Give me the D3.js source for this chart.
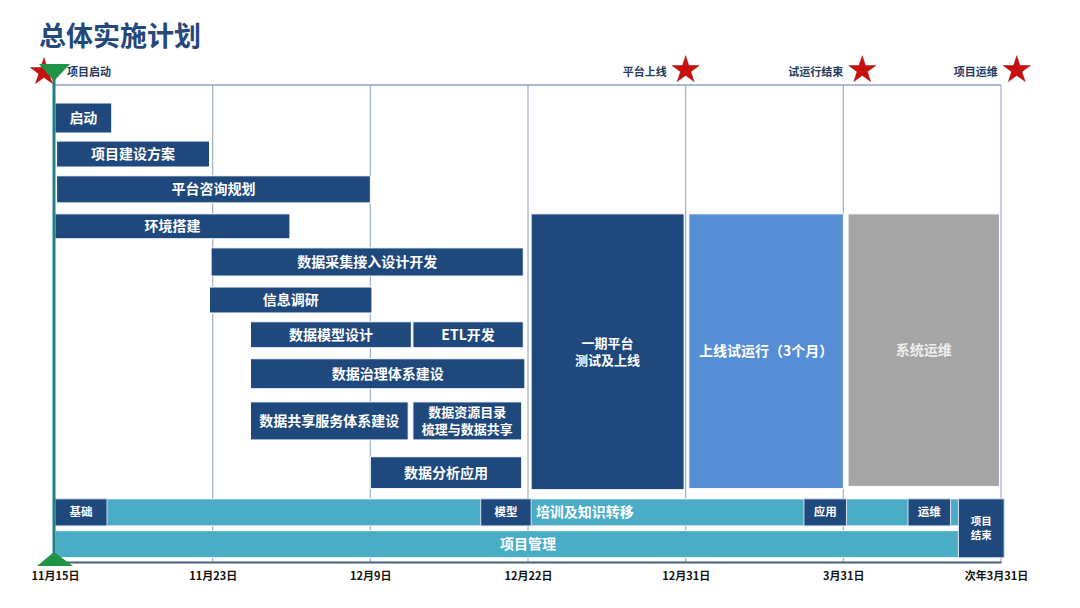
<html>
<head>
<meta charset="UTF-8">
<title>总体实施计划</title>
<script src="https://d3js.org/d3.v7.min.js"></script>
<style>
body {
  margin: 0;
  background: #fff;
  font-family: "Noto Sans CJK SC", "Noto Sans", sans-serif;
}
text {
  font-family: "Noto Sans CJK SC", "Noto Sans", sans-serif;
}
</style>
</head>
<body>
<svg id="chart" width="1080" height="608"></svg>
<script>

// axis labels (one column per milestone date)
var tickLabels = ["11月15日", "11月23日", "12月9日", "12月22日", "12月31日", "3月31日", "次年3月31日"];

// work packages: start / end in column units, lane = row, span = row height in lanes
var taskNames = ["启动", "项目建设方案", "平台咨询规划", "环境搭建", "数据采集接入设计开发", "信息调研",
                 "数据模型设计", "ETL开发", "数据治理体系建设", "数据共享服务体系建设",
                 "数据资源目录\n梳理与数据共享", "数据分析应用"];
var taskStart = [0.0, 0.01, 0.01, 0.0, 0.99, 0.98, 1.24, 2.27, 1.24, 1.24, 2.27, 2.0];
var taskEnd   = [0.36, 0.98, 2.0, 1.49, 2.97, 2.01, 2.26, 2.97, 2.98, 2.24, 2.96, 2.96];
var taskLane  = [0, 1.04, 1.99, 3.03, 3.96, 5.03, 5.98, 5.98, 6.99, 8.17, 8.17, 9.67];
var taskSpan  = [0.82, 0.71, 0.74, 0.68, 0.77, 0.71, 0.71, 0.71, 0.82, 1.04, 1.04, 0.87];

// the three big phases after development
var phaseNames = ["一期平台\n测试及上线", "上线试运行（3个月）", "系统运维"];
var phaseStart = [3.02, 4.02, 5.03];
var phaseEnd   = [3.99, 5.0, 5.99];
var phaseLane  = [3.03, 3.03, 3.03];
var phaseSpan  = [7.54, 7.51, 7.45];
var phaseKind  = ["dark", "mid", "grey"];

// continuous streams along the bottom
var streamNames = ["培训及知识转移", "项目管理"];
var streamStart = [0, 0];
var streamEnd   = [6, 5.73];
var streamLane  = [10.82, 11.69];
var streamSpan  = [0.74, 0.74];

// stage markers sitting on the training stream
var stageNames = ["基础", "模型", "应用", "运维", "项目\n结束"];
var stageStart = [0, 2.7, 4.75, 5.41, 5.73];
var stageEnd   = [0.33, 3.02, 5.02, 5.68, 6.02];
var stageLane  = [10.82, 10.82, 10.82, 10.82, 10.82];
var stageSpan  = [0.74, 0.74, 0.74, 0.74, 1.61];

// milestones (stars)
var milestoneNames = ["项目启动", "平台上线", "试运行结束", "项目运维"];
var milestonePos   = [-0.07, 4.0, 5.12, 6.1];

var navy = "#1f497d";
var colors = {dark: navy, mid: "#558ed5", grey: "#a5a5a5"};
var teal = "#4bacc6";

var svg = d3.select("#chart");

var x = d3.scaleLinear().domain([0, 6]).range([55, 1001]);
var y = d3.scaleLinear().domain([0, 12]).range([103, 542]);
var frameTop = 85, frameBottom = 562;

function zip(names, start, end, lane, span) {
  return names.map(function(n, i) {
    return {name: n, start: start[i], end: end[i], lane: lane[i], span: span[i], i: i};
  });
}

var tasks   = zip(taskNames, taskStart, taskEnd, taskLane, taskSpan);
var phases  = zip(phaseNames, phaseStart, phaseEnd, phaseLane, phaseSpan);
phases.forEach(function(d, i) { d.kind = phaseKind[i]; });
var streams = zip(streamNames, streamStart, streamEnd, streamLane, streamSpan);
var stages  = zip(stageNames, stageStart, stageEnd, stageLane, stageSpan);

// title
svg.append("text")
  .attr("x", 39).attr("y", 46)
  .attr("font-size", 27).attr("font-weight", 700)
  .attr("fill", "#24487a")
  .text("总体实施计划");

// grid
var grid = svg.append("g");
grid.selectAll("line.v").data(d3.range(1, 7)).enter().append("line")
  .attr("x1", function(d) { return x(d); }).attr("x2", function(d) { return x(d); })
  .attr("y1", frameTop).attr("y2", frameBottom)
  .attr("stroke", "#9fb0c6").attr("stroke-width", 1.2);
grid.append("line")
  .attr("x1", x(0)).attr("x2", x(6))
  .attr("y1", frameTop).attr("y2", frameTop)
  .attr("stroke", "#8fa3bf").attr("stroke-width", 1.5);

// multi-line centred label, one text per line
function label(sel, fill, size) {
  sel.each(function(d) {
    var lines = d.name.split("\n");
    var cx = (x(d.start) + x(d.end)) / 2;
    var cy = y(d.lane + d.span / 2);
    var fs = lines.length > 1 ? size - 1 : size;
    var lh = fs * 1.32;
    var g = d3.select(this);
    lines.forEach(function(l, k) {
      g.append("text")
        .attr("class", "lbl")
        .attr("text-anchor", "middle")
        .attr("font-size", fs).attr("font-weight", 700)
        .attr("fill", fill)
        .attr("x", cx)
        .attr("y", cy + (k - (lines.length - 1) / 2) * lh)
        .attr("dy", "0.35em")
        .text(l);
    });
  });
}

function bars(data, cls) {
  var g = svg.append("g").selectAll("g." + cls).data(data).enter().append("g").attr("class", cls);
  g.append("rect")
    .attr("x", function(d) { return x(d.start); })
    .attr("width", function(d) { return x(d.end) - x(d.start); })
    .attr("y", function(d) { return y(d.lane); })
    .attr("height", function(d) { return y(d.lane + d.span) - y(d.lane); });
  return g;
}

// tasks
var tg = bars(tasks, "task");
tg.select("rect").attr("fill", navy).attr("stroke", "#ffffff").attr("stroke-width", 1);
label(tg, "#ffffff", 14);

// phases
var pg = bars(phases, "phase");
pg.select("rect").attr("fill", function(d) { return colors[d.kind]; })
  .attr("stroke", "#ffffff").attr("stroke-width", 1);
label(pg, "#ffffff", 14);
pg.filter(function(d) { return d.kind === "grey"; }).selectAll("text").attr("fill", "#eeeeee");

// streams
var sg = bars(streams, "stream");
sg.select("rect").attr("fill", teal).attr("stroke", "#ffffff").attr("stroke-width", 1);
sg.append("text")
  .attr("x", function(d) { return d.i === 0 ? x(3.05) : x(3); })
  .attr("y", function(d) { return y(d.lane + d.span / 2); })
  .attr("dy", "0.35em")
  .attr("text-anchor", function(d) { return d.i === 0 ? "start" : "middle"; })
  .attr("font-size", 14).attr("font-weight", 700)
  .attr("fill", "#ffffff")
  .text(function(d) { return d.name; });

// stage markers
var stg = bars(stages, "stage");
stg.select("rect").attr("fill", navy).attr("stroke", "#d6e2ef").attr("stroke-width", 1);
label(stg, "#ffffff", 11.5);

// left time line
svg.append("line")
  .attr("x1", x(0) - 1).attr("x2", x(0) - 1)
  .attr("y1", 74).attr("y2", 556)
  .attr("stroke", "#217f88").attr("stroke-width", 3);

// bottom axis
var axis = d3.axisBottom(x)
  .tickValues(d3.range(0, 7))
  .tickFormat(function(d) { return tickLabels[d]; })
  .tickSize(0)
  .tickPadding(10);
var ag = svg.append("g").attr("transform", "translate(0," + frameBottom + ")").call(axis);
ag.select(".domain").attr("stroke", "#44607a").attr("stroke-width", 2);
ag.selectAll("text")
  .attr("font-size", 11).attr("font-weight", 700).attr("fill", "#111111")
  .style("font-family", "'Noto Sans CJK SC', sans-serif");
ag.selectAll(".tick").filter(function(d) { return d === 6; }).select("text").attr("dx", -5);

// milestones
var star = d3.symbol().type(d3.symbolStar).size(230);
var mg = svg.append("g").selectAll("g").data(milestoneNames).enter().append("g");
mg.append("path")
  .attr("d", star)
  .attr("transform", function(d, i) { return "translate(" + x(milestonePos[i]) + "," + (i === 0 ? 72 : 70) + ")"; })
  .attr("fill", "#c8100e")
  .attr("stroke", "#9a1a10").attr("stroke-width", 0.5);
mg.append("text")
  .attr("x", function(d, i) { return i === 0 ? x(milestonePos[i]) + 23 : x(milestonePos[i]) - 19; })
  .attr("y", 73)
  .attr("dy", "0.3em")
  .attr("text-anchor", function(d, i) { return i === 0 ? "start" : "end"; })
  .attr("font-size", 11).attr("font-weight", 700)
  .attr("fill", "#243a5e")
  .text(function(d) { return d; });

// green start / end markers on the time line
var tri = d3.line();
var x0 = x(0) - 1;
svg.append("path")
  .attr("d", tri([[x0 - 15, 64], [x0 + 16, 64], [x0, 81]]) + "Z")
  .attr("fill", "#1f9446");
svg.append("path")
  .attr("d", tri([[x0 - 17, 566], [x0 + 19, 566], [x0, 552]]) + "Z")
  .attr("fill", "#1f9446");

</script>
</body>
</html>
